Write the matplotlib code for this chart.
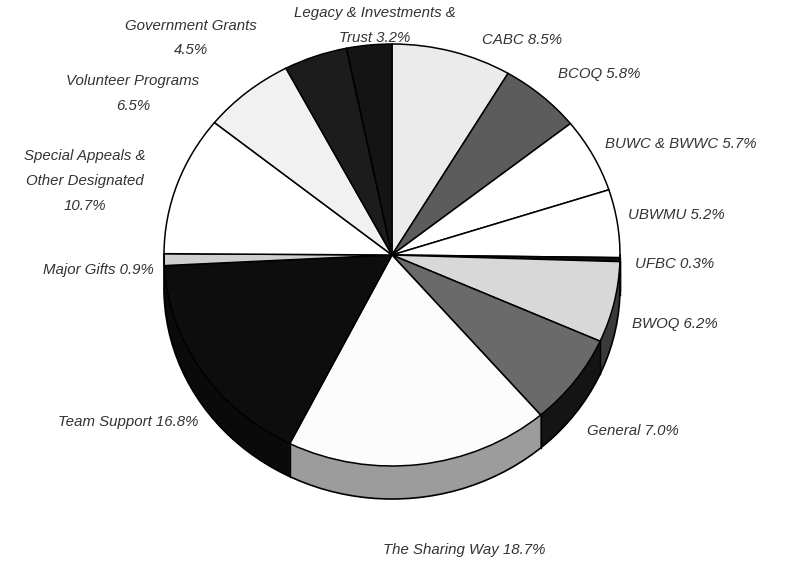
import numpy as np
import matplotlib.pyplot as plt
from matplotlib.patches import Arc

# Income shares, clockwise from 12 o'clock
sources = ['CABC', 'BCOQ', 'BUWC & BWWC', 'UBWMU', 'UFBC', 'BWOQ', 'General',
           'The Sharing Way', 'Team Support', 'Major Gifts',
           'Special Appeals & Other Designated', 'Volunteer Programs',
           'Government Grants', 'Legacy & Investments & Trust']
shares = [8.5, 5.8, 5.7, 5.2, 0.3, 6.2, 7.0, 18.7, 16.8, 0.9, 10.7, 6.5, 4.5, 3.2]

top_colors = ['#ebebeb', '#5c5c5c', '#ffffff', '#ffffff', '#111111', '#d8d8d8',
              '#6a6a6a', '#fcfcfc', '#0d0d0d', '#cfcfcf', '#ffffff', '#f1f1f1',
              '#1c1c1c', '#141414']
side_colors = ['#c8c8c8', '#3c3c3c', '#d0d0d0', '#d0d0d0', '#000000', '#3a3a3a',
               '#141414', '#9c9c9c', '#0a0a0a', '#888888', '#d0d0d0', '#d0d0d0',
               '#111111', '#111111']

# label text and pixel anchor (x, y from top), alignment
labels = [
    ('CABC 8.5%', 482, 40, 'left'),
    ('BCOQ 5.8%', 558, 74, 'left'),
    ('BUWC & BWWC 5.7%', 605, 144, 'left'),
    ('UBWMU 5.2%', 628, 215, 'left'),
    ('UFBC 0.3%', 635, 264, 'left'),
    ('BWOQ 6.2%', 632, 324, 'left'),
    ('General 7.0%', 587, 431, 'left'),
    ('The Sharing Way 18.7%', 464, 550, 'center'),
    ('Team Support 16.8%', 198, 422, 'right'),
    ('Major Gifts 0.9%', 154, 270, 'right'),
    ('Special Appeals &\nOther Designated\n10.7%', 85, 181, 'center'),
    ('Volunteer Programs\n6.5%', 133, 93, 'center'),
    ('Government Grants\n4.5%', 191, 38, 'center'),
    ('Legacy & Investments &\nTrust 3.2%', 375, 25, 'center'),
]

W, H = 791, 565
cx, cy = 392, 255      # pie centre in pixels
rx, ry = 228, 211      # radii in pixels
depth = 33 / ry        # extrusion depth in data units

fig = plt.figure(figsize=(W / 100, H / 100), dpi=100)
ax = fig.add_axes([0, 0, 1, 1])

# side (extrusion), drawn from bottom up
n = 40
for k in range(n, 0, -1):
    ax.pie(shares, colors=side_colors, startangle=90, counterclock=False,
           center=(0, -depth * k / n), radius=1,
           wedgeprops=dict(linewidth=0, edgecolor='none'))

# outline of the side
ax.add_patch(Arc((0, -depth), 2, 2, theta1=180, theta2=360, lw=1.2, color='black'))
ax.plot([-1, -1], [0, -depth], color='black', lw=1.2)
ax.plot([1, 1], [0, -depth], color='black', lw=1.2)

# vertical seams on the visible front of the side
bounds = 90 - 360 * np.cumsum(shares) / 100.0
for b in bounds:
    t = np.deg2rad(b)
    if np.sin(t) < 0:
        ax.plot([np.cos(t)] * 2, [np.sin(t), np.sin(t) - depth], color='black', lw=1)

# top face
ax.pie(shares, colors=top_colors, startangle=90, counterclock=False,
       center=(0, 0), radius=1,
       wedgeprops=dict(linewidth=1.1, edgecolor='black'))

ax.set_aspect('auto')
ax.set_xlim(-cx / rx, (W - cx) / rx)
ax.set_ylim((cy - H) / ry, cy / ry)
ax.axis('off')

for txt, px, py, ha in labels:
    fig.text(px / W, 1 - py / H, txt, ha=ha, va='center', multialignment='center',
             fontsize=10.8, style='italic', family='Liberation Sans',
             color='#333333', linespacing=2.0)

fig.savefig('out.png', dpi=100, facecolor='white')
